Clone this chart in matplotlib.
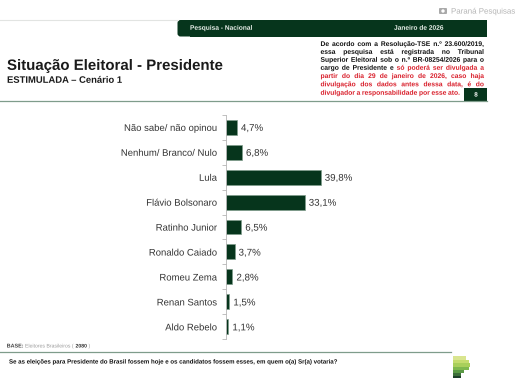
import matplotlib
matplotlib.use('Agg')
import matplotlib.pyplot as plt
import matplotlib.patheffects as pe
from matplotlib.patches import Rectangle, FancyBboxPatch, Circle

plt.rcParams['font.family'] = ['Liberation Sans', 'DejaVu Sans']
plt.rcParams['text.hinting'] = 'none'
# draw glyphs as outlines so small words keep a shared baseline
plt.rcParams['path.effects'] = [pe.Normal()]

# Data
candidates = ['Não sabe/ não opinou', 'Nenhum/ Branco/ Nulo', 'Lula', 'Flávio Bolsonaro',
              'Ratinho Junior', 'Ronaldo Caiado', 'Romeu Zema', 'Renan Santos', 'Aldo Rebelo']
values = [4.7, 6.8, 39.8, 33.1, 6.5, 3.7, 2.8, 1.5, 1.1]
value_labels = ['4,7%', '6,8%', '39,8%', '33,1%', '6,5%', '3,7%', '2,8%', '1,5%', '1,1%']

note_lines = [
    [('De acordo com a Resolução-TSE n.º 23.600/2019,', 'k')],
    [('essa pesquisa está registrada no Tribunal', 'k')],
    [('Superior Eleitoral sob o n.º BR-08254/2026 para o', 'k')],
    [('cargo de Presidente e', 'k'), ('só poderá ser divulgada a', 'r')],
    [('partir do dia 29 de janeiro de 2026, caso haja', 'r')],
    [('divulgação dos dados antes dessa data, é do', 'r')],
    [('divulgador a responsabilidade por esse ato.', 'r')],
]

dark_green = '#06351c'
W, H = 519, 378
fig = plt.figure(figsize=(W / 100, H / 100), dpi=100)

# background axes in pixel coordinates for the slide furniture
bg = fig.add_axes([0, 0, 1, 1])
bg.set_xlim(0, W)
bg.set_ylim(H, 0)
bg.axis('off')

bg.plot([0, 178], [19.5, 19.5], color='#e2e4e2', lw=0.8)
bg.plot([0, 487], [101, 101], color='#7f9c8b', lw=0.9)
bg.plot([0, 451], [351.5, 351.5], color='#7f9c8b', lw=0.9)

# header band
bg.add_patch(FancyBboxPatch((177.5, 20), 40, 16.5, boxstyle='round,pad=0,rounding_size=3', fc=dark_green, ec='none'))
bg.add_patch(Rectangle((190, 20), 297, 16.5, fc=dark_green, ec='none'))
bg.text(190, 28, 'Pesquisa - Nacional', color='#e8efe9', fontsize=4.75, fontweight='bold', va='center')
bg.text(394, 28, 'Janeiro de 2026', color='#e8efe9', fontsize=4.75, fontweight='bold', va='center')

# watermark
bg.add_patch(FancyBboxPatch((439, 8), 8, 6, boxstyle='round,pad=0,rounding_size=1', fc='#a9a9a9', ec='none'))
bg.add_patch(Circle((443, 11), 1.7, fc='white', ec='none'))
bg.text(451, 11.5, 'Paraná Pesquisas', color='#b4b4b4', fontsize=5.7, va='center')

# titles
bg.text(7, 66, 'Situação Eleitoral - Presidente', color='#1a1a1a', fontsize=10.8, fontweight='bold', va='center')
bg.text(7, 80.5, 'ESTIMULADA – Cenário 1', color='#1a1a1a', fontsize=6.8, fontweight='bold', va='center')

# justified note, word by word, on a shared baseline
note_left, note_right = 320.5, 484
note_ys = [46, 53.9, 61.8, 69.8, 78, 86.3, 94.8]
renderer = fig.canvas.get_renderer()
for i, (parts, y) in enumerate(zip(note_lines, note_ys)):
    words = []
    for txt, col in parts:
        for w in txt.split():
            words.append((w, '#111111' if col == 'k' else '#d9202c'))
    items = [bg.text(0, y, w, color=c, fontsize=4.85, fontweight='bold', va='baseline') for w, c in words]
    widths = [t.get_window_extent(renderer).width for t in items]
    right = 460 if i == 6 else note_right
    gap = (right - note_left - sum(widths)) / (len(words) - 1)
    x = note_left
    for t, wd in zip(items, widths):
        t.set_x(x)
        x += wd + gap

# page number box
bg.add_patch(Rectangle((464, 88), 23, 13, fc=dark_green, ec='none'))
bg.text(476, 95, '8', color='white', fontsize=4.5, fontweight='bold', ha='center', va='center')

# footer
bg.text(6.7, 347.5, 'BASE:', color='#444444', fontsize=3.9, fontweight='bold', va='baseline')
bg.text(25, 347.5, 'Eleitores Brasileiros (', color='#9a9a9a', fontsize=3.7, va='baseline')
bg.text(75.5, 347.5, '2080', color='#333333', fontsize=3.7, fontweight='bold', va='baseline')
bg.text(88.5, 347.5, ')', color='#9a9a9a', fontsize=3.7, va='baseline')
bg.text(9, 362, 'Se as eleições para Presidente do Brasil fossem hoje e os candidatos fossem esses, em quem o(a) Sr(a) votaria?',
        color='#111111', fontsize=4.4, fontweight='bold', va='center')

# logo stripes: top, height, right edge, colour
logo_stripes = [(356, 3.5, 466, '#d9e58f'), (359.5, 3.5, 469, '#c5dc6e'), (363, 3.5, 470, '#a9cf5b'),
                (366.5, 3.5, 469, '#7fb84e'), (370, 3, 464, '#5a9a45'), (373, 2.5, 461, '#3c6f3a'),
                (375.5, 2.5, 461, '#1d3f2a')]
for top, hgt, right, col in logo_stripes:
    bg.add_patch(Rectangle((452.5, top), right - 452.5, hgt, fc=col, ec='none'))

# chart
ax_left, ax_top, ax_w, ax_h = 225.7, 114.8, 190, 224.4
ax = fig.add_axes([ax_left / W, 1 - (ax_top + ax_h) / H, ax_w / W, ax_h / H])
ax.patch.set_alpha(0)
ypos = list(range(len(candidates)))
ax.barh(ypos, values, height=0.6, color=dark_green, edgecolor='#7f9c8b', linewidth=0.5)
ax.set_xlim(0, ax_w / 2.387)
ax.set_ylim(len(candidates) - 0.5, -0.5)
ax.set_yticks(ypos)
ax.set_yticklabels(candidates, fontsize=6.85, color='#333333', va='center_baseline')
ax.set_yticks([p - 0.5 for p in ypos] + [len(candidates) - 0.5], minor=True)
ax.tick_params(axis='y', which='major', length=0, pad=6.3)
ax.tick_params(axis='y', which='minor', length=2.5, width=0.6, color='#b5b5b5')
ax.xaxis.set_visible(False)
for s in ['top', 'right', 'bottom']:
    ax.spines[s].set_visible(False)
ax.spines['left'].set_color('#b5b5b5')
ax.spines['left'].set_linewidth(0.6)
for p, v, lab in zip(ypos, values, value_labels):
    ax.text(v + 1.7, p, lab, fontsize=7.0, color='#333333', va='center_baseline')

fig.savefig('out.png', dpi=100)
